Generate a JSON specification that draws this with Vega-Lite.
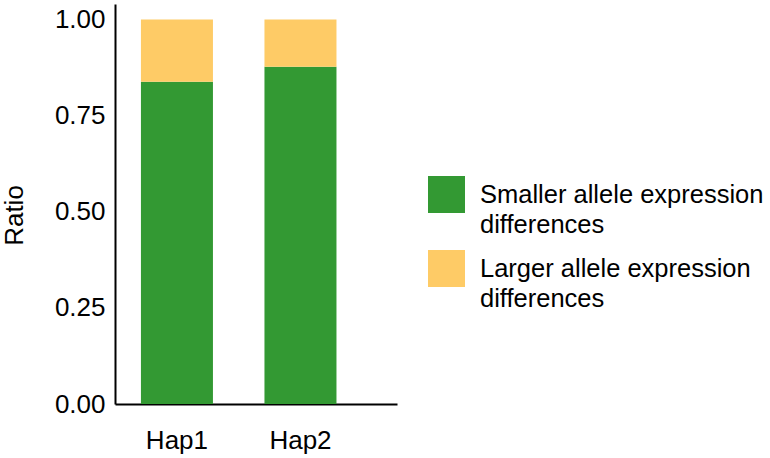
{
  "$schema": "https://vega.github.io/schema/vega-lite/v6.json",
  "autosize": {"type": "none"},
  "padding": {"left": 115, "top": 4, "right": 373, "bottom": 54},
  "width": 282,
  "height": 400,
  "background": "white",
  "data": {
    "values": [
      {"hap": "Hap1", "type": "Smaller allele expression differences", "ratio": 0.838},
      {"hap": "Hap1", "type": "Larger allele expression differences", "ratio": 0.162},
      {"hap": "Hap2", "type": "Smaller allele expression differences", "ratio": 0.877},
      {"hap": "Hap2", "type": "Larger allele expression differences", "ratio": 0.123}
    ]
  },
  "mark": {"type": "bar"},
  "encoding": {
    "x": {
      "field": "hap",
      "type": "nominal",
      "scale": {"paddingInner": 0.417, "paddingOuter": 0.35, "align": 0.3},
      "axis": {"title": null, "labelAngle": 0, "ticks": false, "labelPadding": 23, "domainWidth": 2, "domainColor": "black"}
    },
    "y": {
      "field": "ratio",
      "type": "quantitative",
      "stack": "zero",
      "scale": {"domain": [0, 1.04], "nice": false},
      "axis": {"title": "Ratio", "values": [0, 0.25, 0.5, 0.75, 1], "format": ".2f", "ticks": false, "grid": false, "labelPadding": 10, "titlePadding": 27, "titleY": 211, "domainWidth": 2, "domainColor": "black"}
    },
    "color": {
      "field": "type",
      "type": "nominal",
      "sort": ["Smaller allele expression differences", "Larger allele expression differences"],
      "scale": {"domain": ["Smaller allele expression differences", "Larger allele expression differences"], "range": ["#339933", "#FECB66"]},
      "legend": {
        "title": null,
        "orient": "none",
        "legendX": 313,
        "legendY": 172,
        "symbolType": "square",
        "symbolSize": 1369,
        "symbolStrokeWidth": 0,
        "symbolOpacity": 1,
        "labelOffset": 15,
        "labelFontSize": 25.5,
        "labelLimit": 400,
        "rowPadding": 12,
        "labelExpr": "datum.label == 'Smaller allele expression differences' ? ['Smaller allele expression', 'differences'] : ['Larger allele expression', 'differences']"
      }
    },
    "order": {"field": "type", "sort": "descending"}
  },
  "config": {
    "font": "Liberation Sans",
    "view": {"stroke": null},
    "axis": {"labelFontSize": 26, "titleFontSize": 26, "titleFontWeight": "normal", "labelColor": "black", "titleColor": "black", "labelFont": "Liberation Sans", "titleFont": "Liberation Sans"},
    "legend": {"labelColor": "black", "labelFont": "Liberation Sans"},
    "style": {"guide-label": {"lineHeight": 30}}
  }
}
